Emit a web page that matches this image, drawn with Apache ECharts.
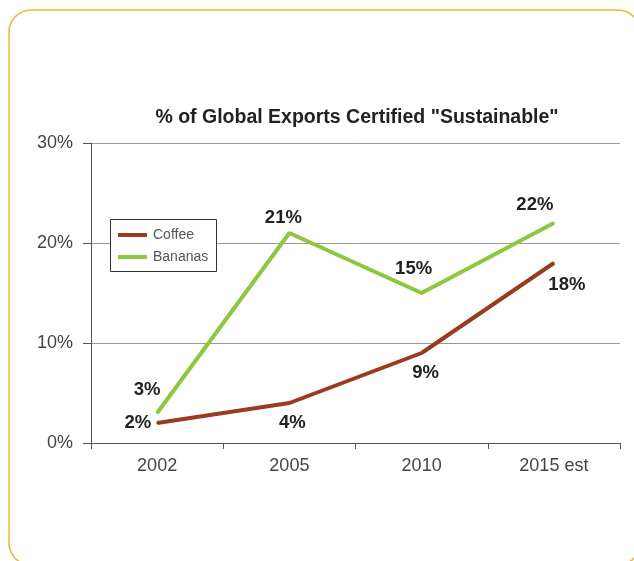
<!DOCTYPE html>
<html>
<head>
<meta charset="utf-8">
<script src="https://cdn.jsdelivr.net/npm/echarts@6/dist/echarts.min.js"></script>
<style>
  html, body { margin: 0; padding: 0; background: #fff; }
  #chart { width: 634px; height: 561px; }
</style>
</head>
<body>
<div id="chart"></div>
<script>
const years = ['2002', '2005', '2010', '2015 est']
const coffee = [2, 4, 9, 18]
const bananas = [3, 21, 15, 22]
// label placement per point: [position, dx, dy]
const coffeeLabelPos = [['left', 0, 0], ['bottom', 3, 4], ['bottom', 4, 4], ['bottom', 13, 6]]
const bananaLabelPos = [['top', -10, -8], ['top', -6, 0], ['top', -8, -9], ['top', -19, -3]]

const chart = echarts.init(document.getElementById('chart'))

const font = 'Liberation Sans, Arial, Helvetica, sans-serif'

function labelled (values, places) {
  return values.map((v, i) => ({
    value: v,
    label: { position: places[i][0], offset: [places[i][1], places[i][2]] }
  }))
}

const dataLabel = {
  show: true,
  formatter: '{c}%',
  fontSize: 18.5,
  fontWeight: 'bold',
  color: '#222',
  fontFamily: font
}

const option = {
  animation: false,
  backgroundColor: '#fff',
  textStyle: { fontFamily: font },
  graphic: [
    {
      type: 'rect',
      shape: { x: 9, y: 10, width: 631, height: 555, r: 22 },
      style: { fill: 'none', stroke: '#f6b22a', lineWidth: 1.5 },
      silent: true
    },
    {
      type: 'rect',
      shape: { x: 110.5, y: 219.5, width: 106, height: 52 },
      style: { fill: '#fff', stroke: '#333', lineWidth: 1 },
      z: 3,
      silent: true
    }
  ],
  title: {
    text: '% of Global Exports Certified "Sustainable"',
    left: 352,
    textAlign: 'center',
    top: 103,
    textStyle: { fontSize: 19.5, fontWeight: 'bold', color: '#222', fontFamily: font }
  },
  legend: {
    left: 113,
    top: 223,
    orient: 'vertical',
    itemWidth: 29,
    itemHeight: 4,
    itemGap: 8,
    z: 4,
    icon: 'rect',
    textStyle: { fontSize: 14, color: '#555', fontFamily: font, padding: [0, 0, 0, 1] },
    data: ['Coffee', 'Bananas']
  },
  grid: { left: 91, right: 14, top: 143, bottom: 118, containLabel: false },
  xAxis: {
    type: 'category',
    data: years,
    boundaryGap: true,
    axisLine: { lineStyle: { color: '#555', width: 1 } },
    axisTick: { show: true, length: 6, lineStyle: { color: '#555' } },
    axisLabel: { fontSize: 18, color: '#444', margin: 14, fontFamily: font }
  },
  yAxis: {
    type: 'value',
    min: 0,
    max: 30,
    interval: 10,
    axisLine: { show: true, lineStyle: { color: '#555', width: 1 } },
    axisTick: { show: true, length: 8, lineStyle: { color: '#555' } },
    axisLabel: { fontSize: 18, color: '#444', margin: 18, formatter: '{value}%', fontFamily: font },
    splitLine: { lineStyle: { color: '#999', width: 1 } }
  },
  series: [
    {
      name: 'Coffee',
      type: 'line',
      data: labelled(coffee, coffeeLabelPos),
      color: '#9c3a1f',
      lineStyle: { width: 4 },
      symbol: 'circle',
      symbolSize: 2,
      showSymbol: true,
      label: dataLabel
    },
    {
      name: 'Bananas',
      type: 'line',
      data: labelled(bananas, bananaLabelPos),
      color: '#8dc63f',
      lineStyle: { width: 4 },
      symbol: 'circle',
      symbolSize: 2,
      showSymbol: true,
      label: dataLabel
    }
  ]
}

chart.setOption(option)
</script>
</body>
</html>
